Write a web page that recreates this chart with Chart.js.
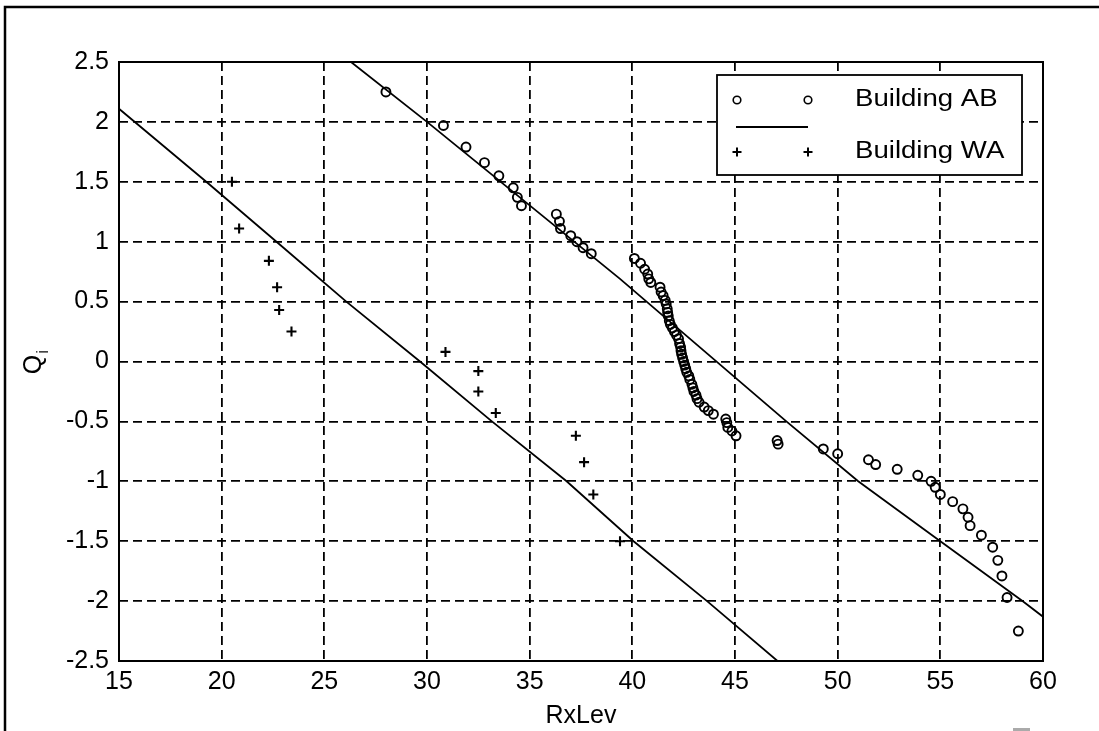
<!DOCTYPE html>
<html>
<head>
<meta charset="utf-8">
<title>RxLev quantiles</title>
<script src="https://cdn.jsdelivr.net/npm/chart.js@4/dist/chart.umd.min.js"></script>
<style>
  html, body { margin: 0; padding: 0; background: #fff; }
  #wrap { width: 1099px; height: 731px; }
</style>
</head>
<body>
<div id="wrap"><canvas id="qq" width="1099" height="731"></canvas></div>
<script>
// Building AB: sorted RxLev samples and their quantiles
const abRxLev = [
  28.0, 30.8, 31.9, 32.8, 33.5, 34.2, 34.4, 34.6, 36.3, 36.45,
  36.5, 37.0, 37.3, 37.6, 38.0, 40.1, 40.4, 40.6, 40.75, 40.8,
  40.9, 41.35, 41.4, 41.5, 41.6, 41.65, 41.7, 41.72, 41.75, 41.8,
  41.85, 41.95, 42.05, 42.15, 42.25, 42.3, 42.35, 42.37, 42.4, 42.45,
  42.5,
  42.55, 42.6, 42.65, 42.75, 42.8, 42.9, 42.95, 43.0, 43.1, 43.15,
  43.25, 43.5, 43.7, 43.95, 44.55, 44.6, 44.65, 44.85, 45.05, 47.05,
  47.1, 49.3, 50.0, 51.5, 51.85, 52.9, 53.9, 54.55, 54.75, 55.0,
  55.6, 56.1, 56.35, 56.45, 57.0, 57.55, 57.8, 58.0, 58.25, 58.8
];
const abQ = [
  2.25, 1.97, 1.79, 1.66, 1.55, 1.45, 1.37, 1.30, 1.23, 1.17,
  1.11, 1.05, 1.00, 0.95, 0.90, 0.86, 0.82, 0.77, 0.73, 0.69,
  0.66, 0.62, 0.58, 0.55, 0.51, 0.48, 0.44, 0.41, 0.38, 0.34,
  0.31, 0.28, 0.25, 0.22, 0.19, 0.15, 0.12, 0.09, 0.06, 0.03,
  0.00,
  -0.03, -0.06, -0.09, -0.12, -0.15, -0.19, -0.22, -0.25, -0.28, -0.31,
  -0.34, -0.38, -0.41, -0.44, -0.48, -0.51, -0.55, -0.58, -0.62, -0.66,
  -0.69, -0.73, -0.77, -0.82, -0.86, -0.90, -0.95, -1.00, -1.05, -1.11,
  -1.17, -1.23, -1.30, -1.37, -1.45, -1.55, -1.66, -1.79, -1.97, -2.25
];

// Building WA
const waRxLev = [20.5, 20.85, 22.3, 22.7, 22.8, 23.4, 30.9, 32.5, 32.5, 33.35, 37.25, 37.65, 38.1, 39.4];
const waQ = [1.50, 1.11, 0.84, 0.62, 0.43, 0.25, 0.08, -0.08, -0.25, -0.43, -0.62, -0.84, -1.11, -1.50];

// fitted reference lines
const abFitX = [26.3, 30.0, 39.4, 47.5, 51.0, 55.0, 59.0, 60.0];
const abFitQ = [2.5, 2.0, 0.69, -0.5, -1.0, -1.5, -2.0, -2.13];
const waFitX = [15.0, 19.25, 22.67, 26.07, 29.66, 33.16, 36.8, 40.06, 43.64, 47.07];
const waFitQ = [2.11, 1.5, 1.0, 0.5, 0.0, -0.5, -1.0, -1.5, -2.0, -2.5];

const legendNames = ['Building AB', 'Building WA'];
const xTitle = 'RxLev';

const pts = (xs, ys) => xs.map((x, i) => ({ x: x, y: ys[i] }));
const FONT = '"Liberation Sans", Arial, Helvetica, sans-serif';

const figurePlugin = {
  id: 'figure',
  beforeDraw(chart) {
    const ctx = chart.ctx;
    ctx.save();
    ctx.fillStyle = '#fff';
    ctx.fillRect(0, 0, chart.width, chart.height);
    // outer frame, top and left
    ctx.strokeStyle = '#000';
    ctx.lineWidth = 2.5;
    ctx.beginPath();
    ctx.moveTo(5, chart.height);
    ctx.lineTo(5, 7);
    ctx.lineTo(chart.width, 7);
    ctx.stroke();
    // small grey stub at the lower right edge
    ctx.fillStyle = '#aaa';
    ctx.fillRect(1013, 728, 17, 3);
    ctx.restore();
  },
  beforeDatasetsDraw(chart) {
    const a = chart.chartArea;
    const ctx = chart.ctx;
    ctx.save();
    ctx.strokeStyle = '#000';
    ctx.lineWidth = 2;
    ctx.strokeRect(a.left, a.top, a.right - a.left, a.bottom - a.top);
    ctx.restore();
  },
  afterDatasetsDraw(chart) {
    const ctx = chart.ctx;
    ctx.save();
    // legend box
    const bx = 717, by = 75, bw = 305, bh = 100;
    ctx.fillStyle = '#fff';
    ctx.fillRect(bx, by, bw, bh);
    ctx.strokeStyle = '#000';
    ctx.lineWidth = 1.8;
    ctx.strokeRect(bx, by, bw, bh);

    const m1 = 737, m2 = 808, tx = 855;
    // circle markers
    ctx.lineWidth = 1.6;
    [m1, m2].forEach(x => {
      ctx.beginPath();
      ctx.arc(x, 100, 3.8, 0, Math.PI * 2);
      ctx.stroke();
    });
    // fit line sample
    ctx.lineWidth = 1.8;
    ctx.beginPath();
    ctx.moveTo(736, 127);
    ctx.lineTo(808, 127);
    ctx.stroke();
    // plus markers
    ctx.lineWidth = 2;
    [m1, m2].forEach(x => {
      ctx.beginPath();
      ctx.moveTo(x - 4.5, 152); ctx.lineTo(x + 4.5, 152);
      ctx.moveTo(x, 147.5); ctx.lineTo(x, 156.5);
      ctx.stroke();
    });

    ctx.fillStyle = '#000';
    ctx.font = '23px ' + FONT;
    ctx.textBaseline = 'middle';
    ctx.textAlign = 'left';
    [[legendNames[0], 100], [legendNames[1], 152]].forEach(([t, y]) => {
      ctx.save();
      ctx.translate(tx, y);
      ctx.scale(1.2, 1);
      ctx.fillText(t, 0, 0);
      ctx.restore();
    });
    ctx.restore();
  },
  afterDraw(chart) {
    // y axis title: Q with subscript i
    const ctx = chart.ctx;
    const a = chart.chartArea;
    ctx.save();
    ctx.translate(34, (a.top + a.bottom) / 2);
    ctx.rotate(-Math.PI / 2);
    ctx.fillStyle = '#000';
    ctx.textBaseline = 'middle';
    ctx.textAlign = 'left';
    ctx.font = '25px ' + FONT;
    const w = ctx.measureText('Q').width;
    ctx.fillText('Q', -w / 2 - 3, 0);
    ctx.font = '17px ' + FONT;
    ctx.fillText('i', w / 2 - 2, 9);
    ctx.restore();
  }
};

new Chart(document.getElementById('qq'), {
  type: 'scatter',
  data: {
    datasets: [
      {
        label: legendNames[0],
        data: pts(abRxLev, abQ),
        pointStyle: 'circle',
        pointRadius: 4.5,
        borderWidth: 1.9,
        borderColor: '#000',
        backgroundColor: 'rgba(0,0,0,0)'
      },
      {
        type: 'line',
        label: 'fit AB',
        data: pts(abFitX, abFitQ),
        showLine: true,
        pointRadius: 0,
        borderColor: '#000',
        borderWidth: 1.8,
        tension: 0
      },
      {
        label: legendNames[1],
        data: pts(waRxLev, waQ),
        pointStyle: 'cross',
        pointRadius: 5,
        borderWidth: 2.1,
        borderColor: '#000'
      },
      {
        type: 'line',
        label: 'fit WA',
        data: pts(waFitX, waFitQ),
        showLine: true,
        pointRadius: 0,
        borderColor: '#000',
        borderWidth: 1.8,
        tension: 0
      }
    ]
  },
  options: {
    responsive: false,
    animation: false,
    events: [],
    layout: { padding: { left: 0, right: 56, top: 62, bottom: 0 } },
    plugins: {
      legend: { display: false },
      tooltip: { enabled: false }
    },
    scales: {
      x: {
        type: 'linear',
        min: 15,
        max: 60,
        afterFit(scale) { scale.height = 70; },
        ticks: {
          stepSize: 5,
          color: '#000',
          padding: 6,
          font: { family: FONT, size: 25 }
        },
        grid: { color: '#000', lineWidth: 1.8, drawTicks: false },
        border: { display: false, dash: [9, 5] },
        title: {
          display: true,
          text: xTitle,
          color: '#000',
          font: { family: FONT, size: 25 },
          padding: { top: 0, bottom: 0 }
        }
      },
      y: {
        type: 'linear',
        min: -2.5,
        max: 2.5,
        afterFit(scale) { scale.width = 119; },
        ticks: {
          stepSize: 0.5,
          color: '#000',
          padding: 10,
          font: { family: FONT, size: 25 },
          callback: v => String(Math.round(v * 10) / 10)
        },
        grid: { color: '#000', lineWidth: 1.8, drawTicks: false },
        border: { display: false, dash: [9, 5] }
      }
    }
  },
  plugins: [figurePlugin]
});
</script>
</body>
</html>
